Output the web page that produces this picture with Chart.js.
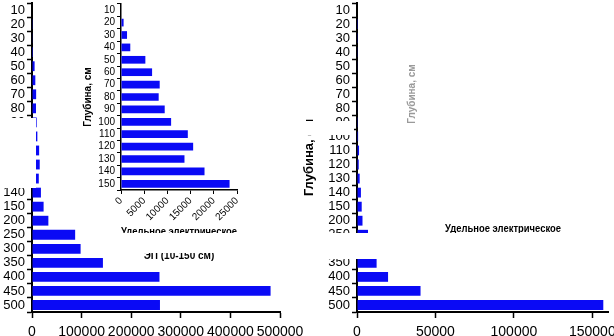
<!DOCTYPE html>
<html><head><meta charset="utf-8">
<script src="https://cdn.jsdelivr.net/npm/chart.js@4/dist/chart.umd.min.js"></script>
<style>
html,body{margin:0;padding:0;background:#fff;}
#wrap{position:relative;width:614px;height:336px;overflow:hidden;background:#fff;}
.box{position:absolute;}
.mask{position:absolute;background:#fff;z-index:5;}
</style></head><body>
<div id="wrap">
  <div class="box" style="left:0;top:0;"><canvas id="mainL" width="305" height="336"></canvas></div>
  <div class="box" style="left:60px;top:0;"><canvas id="insetL" width="240" height="270"></canvas></div>
  <div class="box" style="left:300px;top:0;"><canvas id="mainR" width="314" height="336"></canvas></div>
  <div class="box" style="left:384px;top:-3px;"><canvas id="insetR" width="230" height="270"></canvas></div>
  <div class="mask" style="left:0;top:118px;width:36px;height:70px"></div>
  <div class="mask" style="left:300px;top:121px;width:54px;height:14px"></div>
  <div class="mask" style="left:100px;top:233px;width:200px;height:20px"></div>
  <div class="mask" style="left:300px;top:233px;width:314px;height:26px"></div>
</div>
<script>
// ---- data ----
const depthLabels = ['10','20','30','40','50','60','70','80','90','100','110','120','130','140','150','200','250','300','350','400','450','500'];
const leftValues  = [0, 560, 1300, 2000, 5250, 6700, 8340, 8120, 9420, 10800, 14400, 15550, 13680, 18000, 23400, 33000, 87000, 98000, 143000, 257000, 481000, 258000];
const rightValues = [0, 100, 150, 200, 250, 300, 350, 400, 500, 700, 1300, 1100, 1700, 2500, 3000, 3500, 7000, 9500, 12500, 19800, 40500, 157000];
const insetLabels = ['10','20','30','40','50','60','70','80','90','100','110','120','130','140','150'];
const insetValues = [0, 560, 1300, 2000, 5250, 6700, 8340, 8120, 9420, 10800, 14400, 15550, 13680, 18000, 23400];
const leftTicks  = [0, 100000, 200000, 300000, 400000, 500000];
const rightTicks = [0, 50000, 100000, 150000];
const insetTicks = [0, 5000, 10000, 15000, 20000, 25000];
const leftMax = 500000, rightMax = 160000, insetMax = 25000;
const yTitle = 'Глубина, см';
const insetXTitle = ['Удельное электрическое', 'сопротивление,', 'ЭП (10-150 см)'];

const FONT = "'Liberation Sans', Arial, sans-serif";
const BLUE = '#0a0af5';
Chart.defaults.font.family = FONT;
Chart.defaults.color = '#000';
Chart.defaults.animation = false;

const plain = v => String(v);
const setTicks = arr => (s => { s.ticks = arr.map(v => ({ value: v })); });

function mainChart(id, values, max, tickArr, yWidth, pad, title) {
  return new Chart(document.getElementById(id), {
    type: 'bar',
    data: { labels: depthLabels, datasets: [{ data: values, backgroundColor: BLUE, borderWidth: 0, barPercentage: 0.7, categoryPercentage: 1 }] },
    options: {
      responsive: false, indexAxis: 'y',
      layout: { padding: pad },
      plugins: { legend: { display: false }, tooltip: { enabled: false } },
      scales: {
        y: {
          type: 'category',
          grid: { drawOnChartArea: false, drawTicks: true, tickLength: 5, tickColor: '#000', tickWidth: 1.5 },
          border: { display: true, color: '#000', width: 2 },
          ticks: { font: { size: 13 }, color: '#000', padding: 2, autoSkip: false },
          title: title ? { display: true, text: title, font: { size: 13, weight: 'bold' }, color: '#000', padding: { top: 2, bottom: 0 } } : { display: false },
          afterFit: s => { s.width = yWidth; s.paddingTop = 0; s.paddingBottom = 0; }
        },
        x: {
          type: 'linear', min: 0, max: max,
          afterBuildTicks: setTicks(tickArr),
          grid: { drawOnChartArea: false, drawTicks: true, tickLength: 6, tickColor: '#000', tickWidth: 1.5 },
          border: { display: true, color: '#000', width: 2 },
          ticks: { callback: plain, font: { size: 14 }, color: '#000', padding: 6, maxRotation: 0, autoSkip: false },
          afterFit: s => { s.height = 24; s.paddingLeft = 0; s.paddingRight = 0; }
        }
      }
    }
  });
}

mainChart('mainL', leftValues, leftMax, leftTicks, 32, { left: 0, top: 3, right: 25, bottom: 0 }, null);
mainChart('mainR', rightValues, rightMax, rightTicks, 57, { left: 0, top: 3, right: 6, bottom: 0 }, yTitle);

function insetChart(id, withData, padRight, yTitleColor) {
  return new Chart(document.getElementById(id), {
    type: 'bar',
    data: { labels: insetLabels, datasets: withData ? [{ data: insetValues, backgroundColor: BLUE, borderWidth: 0, barPercentage: 0.62, categoryPercentage: 1 }] : [] },
    options: {
      responsive: false, indexAxis: 'y',
      layout: { padding: { left: 20, top: 4, right: padRight, bottom: 0 } },
      plugins: { legend: { display: false }, tooltip: { enabled: false } },
      scales: {
        y: {
          type: 'category',
          grid: { display: withData, drawOnChartArea: false, drawTicks: true, tickLength: 4, tickColor: '#000', tickWidth: 1 },
          border: { display: withData, color: '#000', width: 1.5 },
          ticks: { display: withData, font: { size: 10 }, color: '#000', padding: 2, autoSkip: false },
          title: { display: true, text: yTitle, font: { size: 10, weight: 'bold' }, color: yTitleColor, padding: { top: 2, bottom: 0 } },
          afterFit: s => { s.width = 41; s.paddingTop = 0; s.paddingBottom = 0; }
        },
        x: {
          type: 'linear', min: 0, max: insetMax,
          afterBuildTicks: setTicks(insetTicks),
          grid: { display: withData, drawOnChartArea: false, drawTicks: true, tickLength: 4, tickColor: '#000', tickWidth: 1 },
          border: { display: withData, color: '#000', width: 1.5 },
          ticks: { display: withData, callback: plain, font: { size: 10 }, color: '#000', padding: 1, minRotation: 45, maxRotation: 45, autoSkip: false },
          title: { display: true, text: insetXTitle, font: { size: 10, weight: 'bold' }, color: '#000', padding: { top: 0, bottom: 8 } },
          afterFit: s => { s.height = 80; s.paddingLeft = 0; s.paddingRight = 0; }
        }
      }
    }
  });
}

insetChart('insetL', true, 63, '#000');
insetChart('insetR', false, 53, '#9a9a9a');
</script>
</body></html>
